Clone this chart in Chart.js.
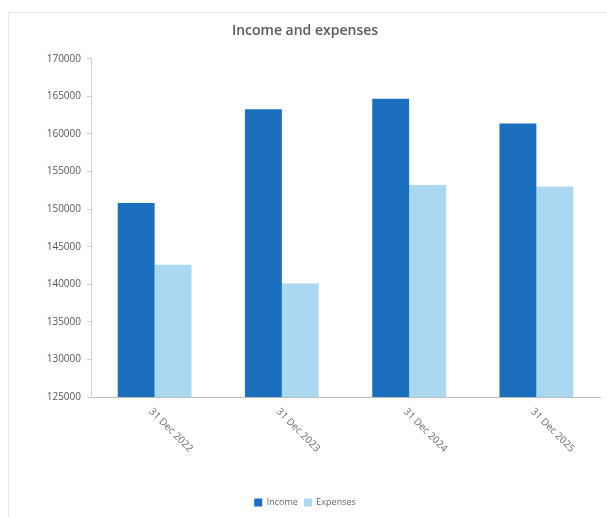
<!DOCTYPE html>
<html>
<head>
<meta charset="utf-8">
<script src="https://cdn.jsdelivr.net/npm/chart.js@4/dist/chart.umd.min.js"></script>
<style>
  html, body { margin: 0; padding: 0; background: #fff; }
  #card {
    position: absolute; left: 8px; top: 12px; width: 620px; height: 520px;
    border: 1px solid #e8e8e8; box-sizing: border-box;
  }
  #wrap { position: absolute; left: 0; top: 0; width: 607px; height: 517px; }
</style>
</head>
<body>
<div id="card"></div>
<div id="wrap"><canvas id="chart"></canvas></div>
<script>
const categories = ["31 Dec 2022", "31 Dec 2023", "31 Dec 2024", "31 Dec 2025"];
const incomeValues = [150800, 163300, 164700, 161400];
const expenseValues = [142600, 140100, 153200, 153000];
const yMin = 125000;
const yMax = 170000;
const yStep = 5000;

// draw the x labels turned clockwise, like the reference
const slantLabels = {
  id: "slantLabels",
  afterDraw(chart) {
    const x = chart.scales.x;
    const ctx = chart.ctx;
    ctx.save();
    ctx.font = "10px 'Open Sans'";
    ctx.fillStyle = "#6b6b6b";
    ctx.textAlign = "left";
    ctx.textBaseline = "middle";
    categories.forEach((c, i) => {
      const px = x.getPixelForTick(i);
      ctx.save();
      ctx.translate(px - 4, x.top + 13);
      ctx.rotate(Math.PI / 4);
      ctx.fillText(c, 0, 0);
      ctx.restore();
    });
    ctx.restore();
  }
};

const ctx = document.getElementById("chart").getContext("2d");
new Chart(ctx, {
  type: "bar",
  data: {
    labels: categories,
    datasets: [
      { label: "Income", data: incomeValues, backgroundColor: "#1c6fbe",
        categoryPercentage: 0.58, barPercentage: 1.0 },
      { label: "Expenses", data: expenseValues, backgroundColor: "#abd8f1",
        categoryPercentage: 0.58, barPercentage: 1.0 }
    ]
  },
  options: {
    responsive: true,
    maintainAspectRatio: false,
    animation: false,
    layout: { padding: { left: 10, right: 7, top: 0, bottom: 0 } },
    plugins: {
      title: {
        display: true,
        text: "Income and expenses",
        color: "#5a5a5a",
        font: { family: "'Open Sans'", size: 14, weight: "600" },
        padding: { top: 23, bottom: 19 }
      },
      legend: {
        position: "bottom",
        labels: {
          boxWidth: 8, boxHeight: 8, padding: 6,
          color: "#666",
          font: { family: "'Open Sans'", size: 9 }
        }
      },
      tooltip: { enabled: false }
    },
    scales: {
      x: {
        grid: { display: false },
        border: { color: "#bdbdbd" },
        ticks: { display: false },
        afterFit: s => { s.height = 95; }
      },
      y: {
        min: yMin, max: yMax,
        grid: { drawOnChartArea: false, tickLength: 4, color: "#d0d0d0" },
        border: { color: "#d0d0d0" },
        ticks: {
          stepSize: yStep,
          color: "#555",
          font: { family: "'Open Sans'", size: 10 },
          padding: 6,
          callback: v => String(v)
        },
        afterFit: s => { s.width = 81; }
      }
    }
  },
  plugins: [slantLabels]
});
</script>
</body>
</html>
